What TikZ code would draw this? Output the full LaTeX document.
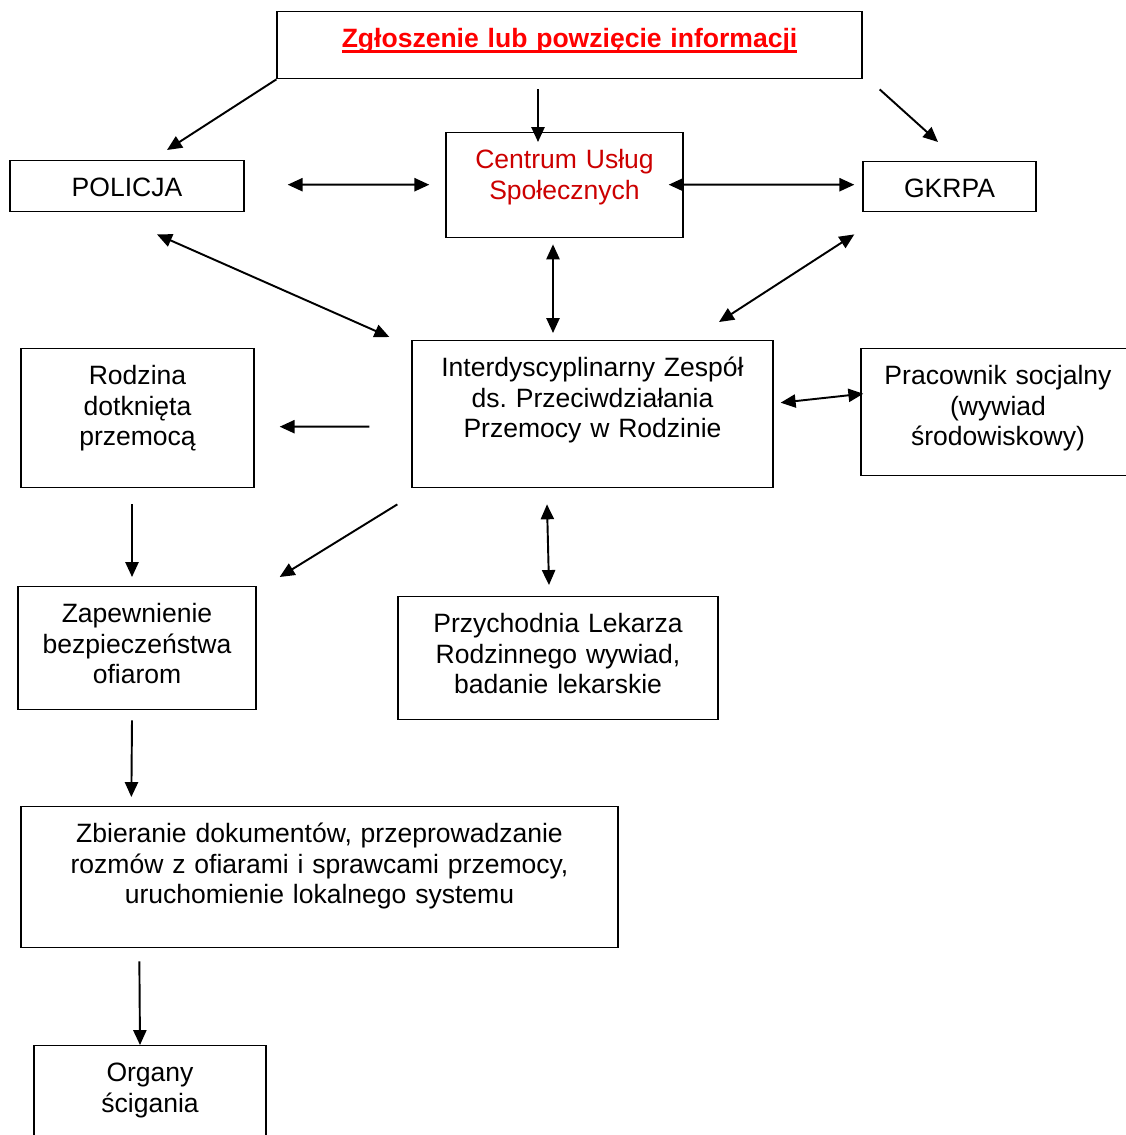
\documentclass[tikz,border=0pt]{standalone}
\usepackage{fontspec}
\setmainfont{Liberation Sans}
\usetikzlibrary{arrows.meta, calc}
\definecolor{alarm}{HTML}{FF0000}
\definecolor{cusred}{HTML}{CC0000}
\newsavebox{\ulbox}
\newcommand{\thickul}[1]{\sbox{\ulbox}{#1}\rlap{\rule[-2.8pt]{\wd\ulbox}{1.6pt}}\usebox{\ulbox}}
\frenchspacing

\begin{document}
\begin{tikzpicture}[x=0.02cm, y=-0.02cm,
   font=\fontsize{15.1pt}{17.4pt}\selectfont,
   box/.style={rectangle, draw=black, line width=0.8pt, fill=white,
     inner sep=0pt, anchor=north, align=center, text height=0.72cm},
   ar/.style={-{Triangle[length=8.5pt, width=7.5pt]}, line width=1.1pt},
   both/.style={{Triangle[length=8.5pt, width=7.5pt]}-{Triangle[length=8.5pt, width=7.5pt]}, line width=1.1pt}]
 \useasboundingbox (0,0) rectangle (1125,1135);
 \node[box, text width=11.70cm, text depth=0.62cm] (zg) at (569.5,11)
      {\textcolor{alarm}{\textbf{\thickul{Zgłoszenie lub powzięcie informacji}}}};
 \node[box, text width=4.68cm, text depth=0.30cm] (pol) at (127,160) {POLICJA};
 \node[box, text width=4.74cm, text depth=1.38cm, text=cusred] (cus) at (564.5,132)
      {Centrum Usług\\Społecznych};
 \node[box, text width=3.46cm, text depth=0.28cm] (gk) at (949.5,161) {GKRPA};
 \node[box, text width=7.22cm, text depth=2.22cm] (iz) at (592.5,340)
      {Interdyscyplinarny Zespół\\ds. Przeciwdziałania\\Przemocy w Rodzinie};
 \node[box, text width=4.66cm, text depth=2.06cm] (rodz) at (137.5,348)
      {Rodzina\\dotknięta\\przemocą};
 \node[box, text width=5.48cm, text depth=1.82cm] (prac) at (998,348)
      {Pracownik socjalny\\(wywiad\\środowiskowy)};
 \node[box, text width=4.76cm, text depth=1.74cm] (zap) at (137,586)
      {Zapewnienie\\bezpieczeństwa\\ofiarom};
 \node[box, text width=6.40cm, text depth=1.74cm] (prz) at (558,596)
      {Przychodnia Lekarza\\Rodzinnego wywiad,\\badanie lekarskie};
 \node[box, text width=11.94cm, text depth=2.10cm] (zb) at (319.5,806)
      {Zbieranie dokumentów, przeprowadzanie\\rozmów z ofiarami i sprawcami przemocy,\\uruchomienie lokalnego systemu};
 \node[box, text width=4.64cm, text depth=1.38cm] (org) at (150,1045)
      {Organy\\ścigania};
 \draw[ar] (zg.south west) -- ($(pol.north)+(40,-10)$);
 \draw[ar] ($(zg.south)+(-31.5,10)$) -- ($(cus.north)+(-26.5,10)$);
 \draw[ar] ($(zg.south east)+(17,10)$) -- ($(gk.north)+(-11.5,-19)$);
 \draw[both] ($(pol.east)+(43,-1.5)$) -- ($(cus.west)+(-16,-0.5)$);
 \draw[both] ($(cus.east)+(-15,-0.5)$) -- ($(gk.west)+(-8,-2)$);
 \draw[both] ($(pol.south)+(30,22)$) -- ($(iz.north west)+(-22,-3)$);
 \draw[both] ($(cus.south)+(-11.5,6)$) -- ($(iz.north)+(-39.5,-7)$);
 \draw[both] ($(gk.south west)+(-8,22)$) -- ($(iz.north)+(126.5,-18)$);
 \draw[ar] ($(iz.west)+(-42,12.5)$) -- ($(rodz.east)+(25,8.5)$);
 \draw[both] ($(iz.east)+(7,-11.5)$) -- ($(prac.west)+(3,-18.5)$);
 \draw[ar] ($(iz.south west)+(-14,16)$) -- ($(zap.north east)+(23,-9)$);
 \draw[both] ($(iz.south)+(-45.5,16)$) -- ($(prz.north)+(-9,-11)$);
 \draw[ar] ($(rodz.south)+(-5.5,16)$) -- ($(zap.north)+(-5,-9)$);
 \draw[ar] ($(zap.south)+(-5,10)$) -- ($(zb.north west)+(111,-9)$);
 \draw[ar] ($(zb.south west)+(119,13)$) -- ($(org.north)+(-10,0)$);
\end{tikzpicture}
\end{document}
